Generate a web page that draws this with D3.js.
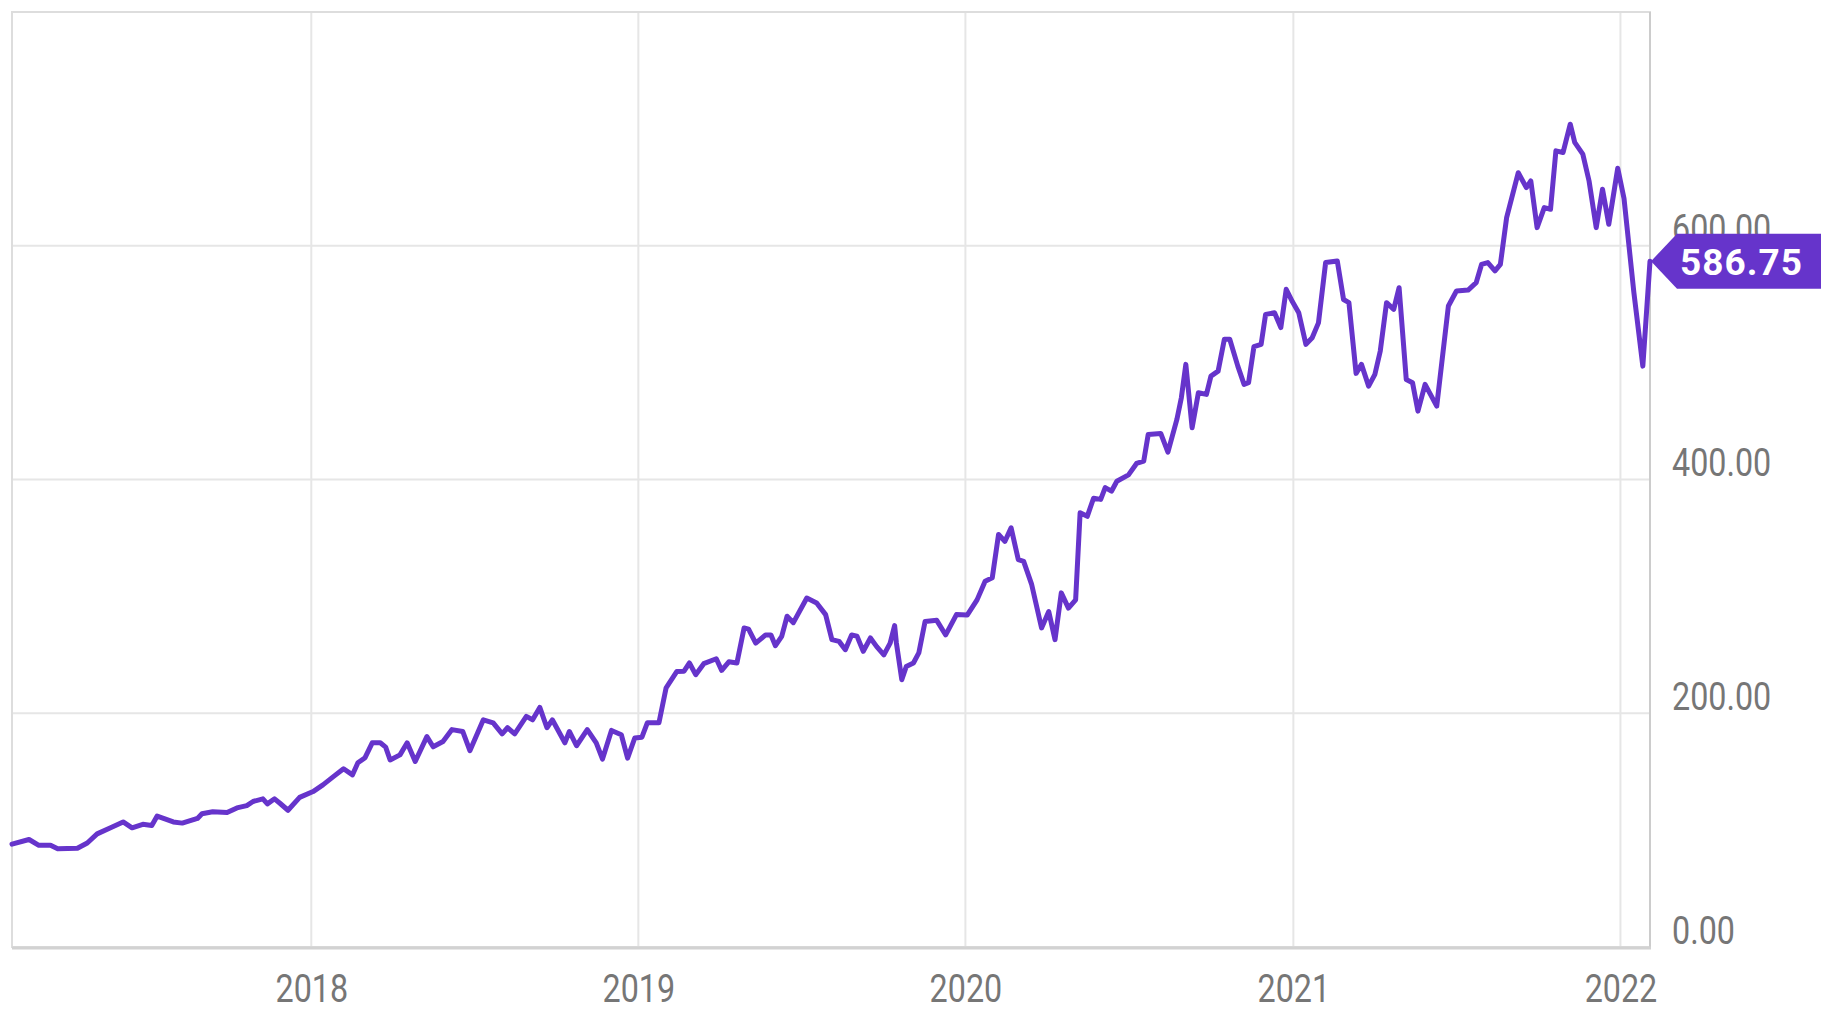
<!DOCTYPE html>
<html>
<head>
<meta charset="utf-8">
<script src="https://cdn.jsdelivr.net/npm/d3@7"></script>
<style>
  body { margin: 0; background: #fff; }
  svg { display: block; }
  text { font-family: Roboto, "Noto Sans", sans-serif; }
</style>
</head>
<body>
<div id="chart"></div>
<script>
// weekly-ish closing prices
const dates = [
  "2017-02-01","2017-02-20","2017-03-03","2017-03-16","2017-03-24","2017-04-15","2017-04-26","2017-05-07",
  "2017-05-22","2017-06-05","2017-06-15","2017-06-27","2017-07-07","2017-07-13","2017-07-31","2017-08-10",
  "2017-08-27","2017-09-01","2017-09-13","2017-09-29","2017-10-10","2017-10-21","2017-10-28","2017-11-08",
  "2017-11-13","2017-11-21","2017-11-27","2017-12-06","2017-12-19",
  "2018-01-03","2018-01-14","2018-01-26","2018-02-06","2018-02-16","2018-02-22","2018-03-02","2018-03-10",
  "2018-03-19","2018-03-25","2018-03-30","2018-04-10","2018-04-18","2018-04-27","2018-05-10","2018-05-17",
  "2018-05-28","2018-06-07","2018-06-19","2018-06-27","2018-07-12","2018-07-23","2018-08-02","2018-08-08",
  "2018-08-16","2018-08-29","2018-09-05","2018-09-13","2018-09-21","2018-09-27","2018-10-11","2018-10-16",
  "2018-10-24","2018-11-05","2018-11-15","2018-11-22","2018-12-02","2018-12-13","2018-12-20","2018-12-28",
  "2019-01-05","2019-01-11","2019-01-24","2019-02-01","2019-02-13","2019-02-21","2019-02-27","2019-03-06",
  "2019-03-15","2019-03-29","2019-04-04","2019-04-12","2019-04-21","2019-04-29","2019-05-04","2019-05-12",
  "2019-05-23","2019-05-29","2019-06-03","2019-06-10","2019-06-16","2019-06-23","2019-07-08","2019-07-19",
  "2019-07-29","2019-08-05","2019-08-13","2019-08-20","2019-08-27","2019-09-02","2019-09-09","2019-09-17",
  "2019-09-24","2019-10-02","2019-10-09","2019-10-14","2019-10-16","2019-10-22","2019-10-27","2019-11-04",
  "2019-11-10","2019-11-17","2019-11-30","2019-12-10","2019-12-22",
  "2020-01-03","2020-01-14","2020-01-23","2020-01-31","2020-02-07","2020-02-14","2020-02-21","2020-02-29",
  "2020-03-06","2020-03-15","2020-03-26","2020-04-03","2020-04-10","2020-04-17","2020-04-25","2020-05-03",
  "2020-05-08","2020-05-16","2020-05-23","2020-05-31","2020-06-05","2020-06-12","2020-06-18","2020-07-01",
  "2020-07-10","2020-07-18","2020-07-23","2020-08-06","2020-08-14","2020-08-24","2020-08-29","2020-09-03",
  "2020-09-10","2020-09-17","2020-09-26","2020-10-01","2020-10-09","2020-10-16","2020-10-22","2020-10-31",
  "2020-11-07","2020-11-12","2020-11-18","2020-11-26","2020-12-01","2020-12-11","2020-12-18","2020-12-24",
  "2020-12-31",
  "2021-01-07","2021-01-15","2021-01-22","2021-01-29","2021-02-06","2021-02-19","2021-02-26","2021-03-04",
  "2021-03-12","2021-03-18","2021-03-26","2021-04-02","2021-04-08","2021-04-15","2021-04-23","2021-04-29",
  "2021-05-07","2021-05-14","2021-05-20","2021-05-28","2021-06-10","2021-06-23","2021-07-02","2021-07-15",
  "2021-07-24","2021-07-30","2021-08-06","2021-08-14","2021-08-20","2021-08-27","2021-09-09","2021-09-14",
  "2021-09-18","2021-09-23","2021-09-30","2021-10-08","2021-10-15","2021-10-21","2021-10-29","2021-11-06",
  "2021-11-11","2021-11-20","2021-11-27","2021-12-05","2021-12-12","2021-12-19","2021-12-29",
  "2022-01-05","2022-01-16","2022-01-26","2022-02-03"
];
const prices = [
  88,92,87,87,84,84.5,89,96.8,
  102,107,102,105,104,112,107,106,
  110,114,115.7,115,119,121,124.5,126.8,
  122.5,126.8,123,117,128,
  133,138.7,146,152.5,147.3,157.6,162,174.7,
  174.7,171,160,164.4,174.7,158.7,180,171.3,
  175.8,186,184.4,168,194.4,191.8,182.4,187.6,
  182.4,197.3,194.4,205,187.6,194.4,174.7,184.4,
  172.2,186,174.7,160.8,185.3,181.6,161.6,178.8,
  179.5,191.8,191.8,221.8,235.8,236,243,233,
  242.4,246.6,236.7,244,243,273,272,260,
  267,267,257.8,265.8,283,277.5,298.6,294.4,
  284.4,263,261.5,254.4,267,266,253,264.4,
  257,250,260,275,260,228.7,240,243,
  251.6,278.6,279.5,267,284.4,
  284,297,313,316,353,347,358.6,331.5,
  330,310,273,287,263,303,290,297,
  371.5,368.5,384,383,393,390,398.5,404,
  413.7,415.7,438.5,439.4,423.4,451.4,470,498.5,
  444.2,474.2,472.8,488.5,492.7,520,520,497,
  481.4,482.8,513.6,515.6,541.3,542.7,530,562.7,
  552,
  542.7,515.6,521.3,534,585.6,587,554,551.3,
  490.8,498.5,479.9,490,510,551.3,545.6,564.1,
  485.6,482.8,458.5,481.4,462.8,548.5,561.3,562.1,
  568.4,584,585.6,578.5,584,624,662.5,655.4,
  649.7,655.4,615.5,632.6,631.2,681.2,679.8,704,
  688.4,678.4,655.4,615.5,648.4,618.4,666.3,
  640.4,560,497,586.75
];
const yTicks = [0, 200, 400, 600];
const xTicks = ["2018-01-01", "2019-01-01", "2020-01-01", "2021-01-01", "2022-01-01"];
const yMax = 800;
const lastLabel = "586.75";

const parse = d3.timeParse("%Y-%m-%d");
const data = dates.map((d, i) => ({ date: parse(d), value: prices[i] }));

const svgWidth = 1842;
const svgHeight = 1013;
const margin = { top: 12, right: 192, bottom: 66, left: 12 };
const width = svgWidth - margin.left - margin.right;
const height = svgHeight - margin.top - margin.bottom;

const lineColor = "#6634cb";

const svg = d3.select("#chart")
  .append("svg")
  .attr("width", svgWidth)
  .attr("height", svgHeight);

const chart = svg.append("g")
  .attr("transform", `translate(${margin.left}, ${margin.top})`);

const xScale = d3.scaleTime()
  .domain([data[0].date, data[data.length - 1].date])
  .range([0, width]);

const yScale = d3.scaleLinear()
  .domain([0, yMax])
  .range([height, 0]);

// grid
chart.append("g")
  .selectAll("line")
  .data(yTicks)
  .enter()
  .append("line")
  .attr("x1", 0)
  .attr("x2", width)
  .attr("y1", d => yScale(d))
  .attr("y2", d => yScale(d))
  .attr("stroke", "#e6e6e6")
  .attr("stroke-width", 2);

chart.append("g")
  .selectAll("line")
  .data(xTicks.map(parse))
  .enter()
  .append("line")
  .attr("x1", d => xScale(d))
  .attr("x2", d => xScale(d))
  .attr("y1", 0)
  .attr("y2", height)
  .attr("stroke", "#e6e6e6")
  .attr("stroke-width", 2);

// frame
chart.append("rect")
  .attr("x", 0)
  .attr("y", 0)
  .attr("width", width)
  .attr("height", height)
  .attr("fill", "none")
  .attr("stroke", "#dddddd")
  .attr("stroke-width", 2);

chart.append("line")
  .attr("x1", width).attr("x2", width)
  .attr("y1", 0).attr("y2", height)
  .attr("stroke", "#cccccc")
  .attr("stroke-width", 2);

chart.append("line")
  .attr("x1", 0).attr("x2", width + 1)
  .attr("y1", height + 1).attr("y2", height + 1)
  .attr("stroke", "#d2d2d2")
  .attr("stroke-width", 3);

// price line
const line = d3.line()
  .x(d => xScale(d.date))
  .y(d => yScale(d.value));

chart.append("path")
  .datum(data)
  .attr("fill", "none")
  .attr("stroke", lineColor)
  .attr("stroke-width", 5)
  .attr("stroke-linejoin", "round")
  .attr("stroke-linecap", "round")
  .attr("d", line);

// y axis on the right
const yAxis = chart.append("g")
  .attr("transform", `translate(${width}, 0)`)
  .call(d3.axisRight(yScale).tickValues(yTicks).tickSize(0).tickFormat(d3.format(".2f")));
yAxis.select(".domain").remove();
yAxis.selectAll("text")
  .attr("x", 0)
  .attr("dy", 0)
  .attr("transform", "translate(22,-4) scale(0.85,1)")
  .attr("fill", "#767676")
  .attr("font-size", 38)
  .attr("font-family", "Roboto");

// x axis
const xAxis = chart.append("g")
  .attr("transform", `translate(0, ${height})`)
  .call(d3.axisBottom(xScale).tickValues(xTicks.map(parse)).tickSize(0).tickFormat(d3.timeFormat("%Y")));
xAxis.select(".domain").remove();
xAxis.selectAll("text")
  .attr("y", 0)
  .attr("dy", 0)
  .attr("transform", "translate(0,55) scale(0.85,1)")
  .attr("fill", "#767676")
  .attr("font-size", 38)
  .attr("font-family", "Roboto");

// last price tag
const last = data[data.length - 1];
const tx = xScale(last.date) + 1;
const ty = yScale(last.value);
const tag = chart.append("g").attr("transform", `translate(${tx}, ${ty})`);
tag.append("path")
  .attr("d", "M0,0 L26,-27.5 L170,-27.5 L170,27.5 L26,27.5 Z")
  .attr("fill", lineColor);
tag.append("text")
  .attr("x", 29)
  .attr("y", 0)
  .attr("dy", "0.36em")
  .attr("fill", "#ffffff")
  .attr("font-size", 37)
  .attr("font-weight", "bold")
  .attr("letter-spacing", 1)
  .text(lastLabel);
</script>
</body>
</html>
